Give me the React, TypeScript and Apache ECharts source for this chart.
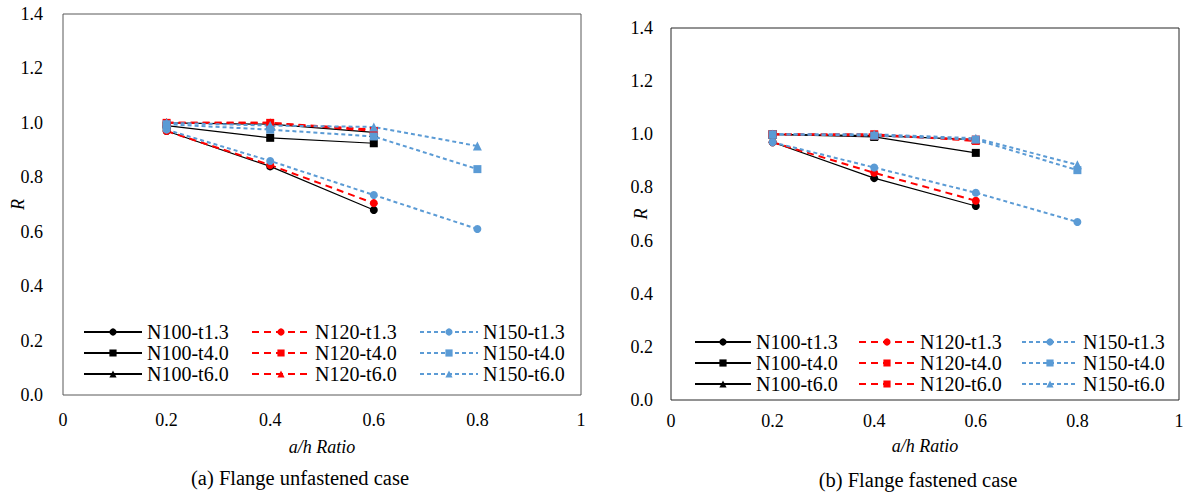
import React, { useEffect, useRef } from "react";
import * as echarts from "echarts";

// x positions (a/h ratio) of the measured points
const xValues = [0.2, 0.4, 0.6, 0.8];

// axis tick labels
const xTickLabels = ["0", "0.2", "0.4", "0.6", "0.8", "1"];
const yTickLabels = ["0.0", "0.2", "0.4", "0.6", "0.8", "1.0", "1.2", "1.4"];

const seriesNames = [
  "N100-t1.3", "N100-t4.0", "N100-t6.0",
  "N120-t1.3", "N120-t4.0", "N120-t6.0",
  "N150-t1.3", "N150-t4.0", "N150-t6.0",
];

// (a) Flange unfastened case
const unfastenedN100t13 = [0.97, 0.84, 0.68];
const unfastenedN100t40 = [0.99, 0.945, 0.925];
const unfastenedN100t60 = [1.0, 0.995, 0.965];
const unfastenedN120t13 = [0.97, 0.845, 0.705];
const unfastenedN120t40 = [1.0, 1.0, 0.97];
const unfastenedN120t60 = [1.0, 1.0, 0.975];
const unfastenedN150t13 = [0.975, 0.86, 0.735, 0.61];
const unfastenedN150t40 = [0.995, 0.975, 0.95, 0.83];
const unfastenedN150t60 = [1.0, 0.99, 0.985, 0.915];

// (b) Flange fastened case
const fastenedN100t13 = [0.97, 0.835, 0.73];
const fastenedN100t40 = [1.0, 0.99, 0.93];
const fastenedN100t60 = [1.0, 0.995, 0.98];
const fastenedN120t13 = [0.97, 0.855, 0.75];
const fastenedN120t40 = [1.0, 1.0, 0.975];
const fastenedN120t60 = [1.0, 0.995, 0.98];
const fastenedN150t13 = [0.97, 0.875, 0.78, 0.67];
const fastenedN150t40 = [1.0, 0.995, 0.98, 0.865];
const fastenedN150t60 = [1.0, 1.0, 0.985, 0.885];

const unfastenedValues = [
  unfastenedN100t13, unfastenedN100t40, unfastenedN100t60,
  unfastenedN120t13, unfastenedN120t40, unfastenedN120t60,
  unfastenedN150t13, unfastenedN150t40, unfastenedN150t60,
];
const fastenedValues = [
  fastenedN100t13, fastenedN100t40, fastenedN100t60,
  fastenedN120t13, fastenedN120t40, fastenedN120t60,
  fastenedN150t13, fastenedN150t40, fastenedN150t60,
];

const unfastenedSymbols = ["circle", "rect", "triangle", "circle", "rect", "triangle", "circle", "rect", "triangle"];
const fastenedSymbols = ["circle", "rect", "triangle", "circle", "rect", "rect", "circle", "rect", "triangle"];

const FONT = "Liberation Serif";

const groupStyle = (i: number) => {
  if (i < 3) return { color: "#000000", type: "solid" as any, width: 1.2 };
  if (i < 6) return { color: "#FF0000", type: [7, 5] as any, width: 2 };
  return { color: "#5B9BD5", type: [4, 3] as any, width: 2 };
};

type PanelCfg = {
  values: number[][];
  symbols: string[];
  grid: { left: number; top: number; width: number; height: number };
  borderColor: string;
  legendLefts: number[];
  legendTop: number;
  legendItemWidth: number;
  yNameGap: number;
  yLabelMargin: number;
  xLabelMargin: number;
  xNameGap: number;
  caption: string;
  captionX: number;
  captionY: number;
};

function buildOption(cfg: PanelCfg) {
  const series = seriesNames.map((name, i) => {
    const st = groupStyle(i);
    return {
      name,
      type: "line",
      data: cfg.values[i].map((v, k) => [xValues[k], v]),
      symbol: cfg.symbols[i],
      symbolSize: cfg.symbols[i] === "triangle" ? 9 : 8,
      showSymbol: true,
      lineStyle: { color: st.color, type: st.type, width: st.width },
      itemStyle: { color: st.color },
      emphasis: { disabled: true },
    };
  });
  const legends = [0, 1, 2].map((c) => ({
    orient: "vertical",
    left: cfg.legendLefts[c],
    top: cfg.legendTop,
    itemWidth: cfg.legendItemWidth,
    itemHeight: 9,
    itemGap: 1,
    padding: 0,
    selectedMode: false,
    data: seriesNames.slice(c * 3, c * 3 + 3),
    textStyle: { fontFamily: FONT, fontSize: 20, lineHeight: 20, color: "#000" },
  }));
  return {
    animation: false,
    backgroundColor: "#ffffff",
    textStyle: { fontFamily: FONT },
    grid: {
      ...cfg.grid,
      show: true,
      borderColor: cfg.borderColor,
      borderWidth: 1,
      backgroundColor: "transparent",
      containLabel: false,
    },
    legend: legends,
    xAxis: {
      type: "value",
      min: 0,
      max: 1,
      interval: 0.2,
      name: "a/h Ratio",
      nameLocation: "middle",
      nameGap: cfg.xNameGap,
      nameMoveOverlap: false,
      nameTextStyle: { fontFamily: FONT, fontSize: 18, fontStyle: "italic", color: "#000" },
      axisLine: { show: false },
      axisTick: { show: false },
      splitLine: { show: false },
      axisLabel: {
        margin: cfg.xLabelMargin,
        fontFamily: FONT,
        fontSize: 18,
        color: "#000",
        formatter: (v: number) => xTickLabels[Math.round(v / 0.2)],
      },
    },
    yAxis: {
      type: "value",
      min: 0,
      max: 1.4,
      interval: 0.2,
      name: "R",
      nameLocation: "middle",
      nameRotate: 90,
      nameGap: cfg.yNameGap,
      nameMoveOverlap: false,
      nameTextStyle: { fontFamily: FONT, fontSize: 18, fontStyle: "italic", color: "#000" },
      axisLine: { show: false },
      axisTick: { show: false },
      splitLine: { show: false },
      axisLabel: {
        margin: cfg.yLabelMargin,
        fontFamily: FONT,
        fontSize: 18,
        color: "#000",
        formatter: (v: number) => yTickLabels[Math.round(v / 0.2)],
      },
    },
    graphic: [
      {
        type: "text",
        x: cfg.captionX,
        y: cfg.captionY,
        style: {
          text: cfg.caption,
          fontFamily: FONT,
          fontSize: 20.5,
          fill: "#000",
          align: "center",
          verticalAlign: "middle",
        },
      },
    ],
    series,
  };
}

function Panel({ cfg, left, width }: { cfg: PanelCfg; left: number; width: number }) {
  const ref = useRef<HTMLDivElement>(null);
  useEffect(() => {
    if (!ref.current) return;
    const chart = echarts.init(ref.current, undefined, { renderer: "svg" });
    chart.setOption(buildOption(cfg) as any);
    return () => chart.dispose();
  }, []);
  return (
    <div
      ref={ref}
      style={{ position: "absolute", left, top: 0, width, height: 500 }}
    />
  );
}

const leftCfg: PanelCfg = {
  values: unfastenedValues,
  symbols: unfastenedSymbols,
  grid: { left: 63, top: 14, width: 518, height: 381 },
  borderColor: "#595959",
  legendLefts: [83, 251, 419],
  legendTop: 322,
  legendItemWidth: 58,
  yNameGap: 36,
  yLabelMargin: 20,
  xLabelMargin: 16,
  xNameGap: 43,
  caption: "(a) Flange unfastened case",
  captionX: 300,
  captionY: 478,
};

const rightCfg: PanelCfg = {
  values: fastenedValues,
  symbols: fastenedSymbols,
  grid: { left: 71, top: 28, width: 508, height: 372 },
  borderColor: "#262626",
  legendLefts: [94, 258, 421],
  legendTop: 332,
  legendItemWidth: 56,
  yNameGap: 21,
  yLabelMargin: 18,
  xLabelMargin: 12,
  xNameGap: 37,
  caption: "(b) Flange fastened case",
  captionX: 318,
  captionY: 480,
};

export default function App() {
  return (
    <div style={{ position: "fixed", left: 0, top: 0, width: 1190, height: 500, background: "#fff" }}>
      <Panel cfg={leftCfg} left={0} width={600} />
      <Panel cfg={rightCfg} left={600} width={590} />
    </div>
  );
}
